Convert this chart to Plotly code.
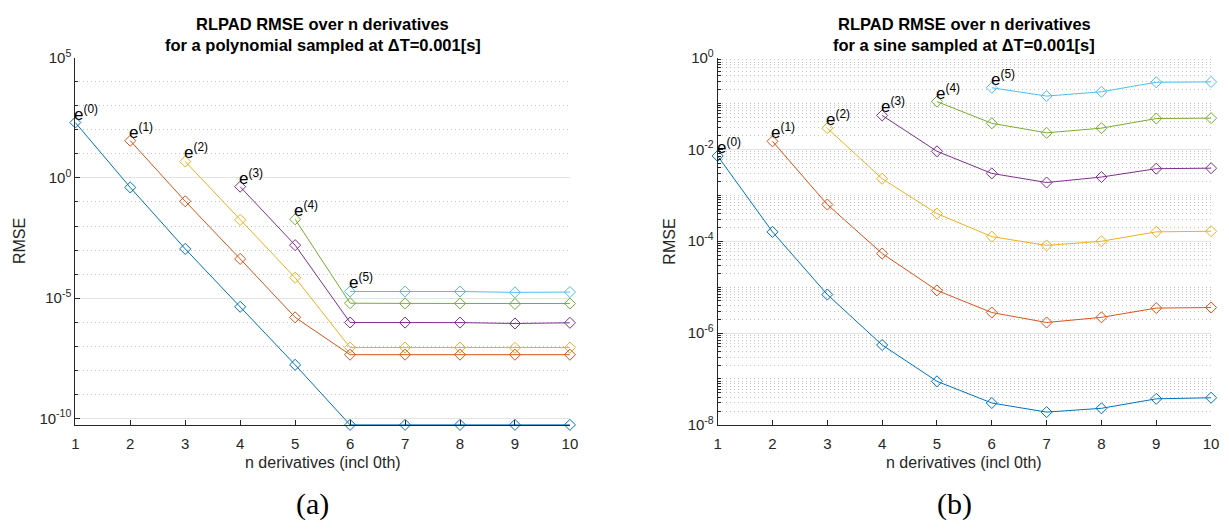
import math
import plotly.graph_objects as go

# ---------------- data ----------------
n_deriv = [1, 2, 3, 4, 5, 6, 7, 8, 9, 10]
series_names = ["e(0)", "e(1)", "e(2)", "e(3)", "e(4)", "e(5)"]
colors = ["#0072BD", "#D95319", "#EDB120", "#7E2F8E", "#77AC30", "#4DBEEE"]

# (a) polynomial, RMSE of derivative k starts at n = k+1
poly_e0 = [2.0e2, 4.0e-1, 1.12e-3, 4.4e-6, 1.7e-8, 5.45e-11, 5.45e-11, 5.45e-11, 5.45e-11, 5.45e-11]
poly_e1 = [3.5e1, 1.07e-1, 4.3e-4, 1.6e-6, 4.5e-8, 4.5e-8, 4.5e-8, 4.5e-8, 4.5e-8]
poly_e2 = [4.8e0, 1.8e-2, 7.1e-5, 8.9e-8, 8.9e-8, 8.9e-8, 8.7e-8, 8.9e-8]
poly_e3 = [4.3e-1, 1.6e-3, 9.8e-7, 9.7e-7, 9.7e-7, 8.9e-7, 9.5e-7]
poly_e4 = [1.9e-2, 6.2e-6, 6.1e-6, 6.1e-6, 5.8e-6, 6.0e-6]
poly_e5 = [1.9e-5, 1.9e-5, 1.9e-5, 1.75e-5, 1.8e-5]

# (b) sine
sine_e0 = [7.2e-3, 1.6e-4, 6.9e-6, 5.5e-7, 8.9e-8, 3.0e-8, 1.9e-8, 2.3e-8, 3.7e-8, 3.9e-8]
sine_e1 = [1.5e-2, 6.3e-4, 5.4e-5, 8.5e-6, 2.8e-6, 1.7e-6, 2.2e-6, 3.5e-6, 3.6e-6]
sine_e2 = [2.9e-2, 2.3e-3, 4.0e-4, 1.26e-4, 8.1e-5, 1.0e-4, 1.6e-4, 1.65e-4]
sine_e3 = [5.5e-2, 9.1e-3, 3.0e-3, 1.9e-3, 2.5e-3, 3.8e-3, 3.9e-3]
sine_e4 = [1.1e-1, 3.7e-2, 2.3e-2, 2.9e-2, 4.7e-2, 4.8e-2]
sine_e5 = [2.2e-1, 1.45e-1, 1.8e-1, 2.9e-1, 2.95e-1]

poly_series = [poly_e0, poly_e1, poly_e2, poly_e3, poly_e4, poly_e5]
sine_series = [sine_e0, sine_e1, sine_e2, sine_e3, sine_e4, sine_e5]

title_a = ["RLPAD RMSE over n derivatives", "for a polynomial sampled at \u0394T=0.001[s]"]
title_b = ["RLPAD RMSE over n derivatives", "for a sine sampled at \u0394T=0.001[s]"]
x_title = "n derivatives (incl 0th)"
y_title = "RMSE"
ticks_a = [1e-10, 1e-5, 1e0, 1e5]
ticks_a_text = ["10<sup>-10</sup>", "10<sup>-5</sup>", "10<sup>0</sup>", "10<sup>5</sup>"]
ticks_b = [1e-8, 1e-6, 1e-4, 1e-2, 1e0]
ticks_b_text = ["10<sup>-8</sup>", "10<sup>-6</sup>", "10<sup>-4</sup>", "10<sup>-2</sup>", "10<sup>0</sup>"]

# ---------------- figure ----------------
W, H = 1229, 530
FONT = "Liberation Sans, Arial, Helvetica, sans-serif"
TXT = "#262626"

fig = go.Figure()

for panel, series in ((1, poly_series), (2, sine_series)):
    xa = "x" if panel == 1 else "x2"
    ya = "y" if panel == 1 else "y2"
    for k, vals in enumerate(series):
        xs = n_deriv[k:k + len(vals)]
        fig.add_trace(go.Scatter(
            x=xs, y=vals, mode="lines+markers",
            line=dict(color=colors[k], width=1),
            marker=dict(symbol="diamond-open", size=8.5, color=colors[k],
                        line=dict(width=1, color=colors[k])),
            cliponaxis=False, showlegend=False, hoverinfo="skip",
            xaxis=xa, yaxis=ya,
        ))
        fig.add_annotation(
            x=xs[0], y=math.log10(vals[0]), xref=xa, yref=ya,
            text="e<sup>(%d)</sup>" % k, showarrow=False,
            xanchor="left", yanchor="bottom", xshift=-3, yshift=-3,
            font=dict(family=FONT, size=17, color="black"),
        )

# minor tick positions
minor_a = [10.0 ** p for p in range(-10, 5) if p not in (-10, -5, 0)]
minor_b = []
for p in range(-8, 0):
    for m in range(1, 10):
        if not (m == 1 and p % 2 == 0):
            minor_b.append(m * 10.0 ** p)

dom_y = [1 - 429.3 / H, 1 - 48.3 / H]
dom_xa = [72 / W, 571.5 / W]
dom_xb = [720.7 / W, 1219 / W]

xcommon = dict(range=[1, 10], tickvals=n_deriv, ticks="inside", ticklen=5, tickcolor=TXT,
               showline=True, linecolor=TXT, linewidth=1, showgrid=False, zeroline=False,
               ticklabelstandoff=5,
               tickfont=dict(family=FONT, size=15, color=TXT))
ycommon = dict(type="log", ticks="inside", ticklen=5, tickcolor=TXT, tickmode="array",
               showline=True, linecolor=TXT, linewidth=1, showgrid=True,
               gridcolor="#e3e3e3", gridwidth=1, zeroline=False,
               tickfont=dict(family=FONT, size=15, color=TXT))
minor_common = dict(tickmode="array", ticks="inside", ticklen=3, tickcolor=TXT,
                    showgrid=True, gridcolor="#c4c4c4", griddash="1px,3px", gridwidth=1)

fig.update_layout(
    width=W, height=H, margin=dict(l=0, r=0, t=0, b=0),
    paper_bgcolor="white", plot_bgcolor="white",
    xaxis=dict(xcommon, domain=dom_xa, anchor="y"),
    xaxis2=dict(xcommon, domain=dom_xb, anchor="y2"),
    yaxis=dict(ycommon, domain=dom_y, anchor="x", range=[-10.265, 5],
               tickvals=ticks_a, ticktext=ticks_a_text,
               minor=dict(minor_common, tickvals=minor_a)),
    yaxis2=dict(ycommon, domain=dom_y, anchor="x2", range=[-8, 0],
                tickvals=ticks_b, ticktext=ticks_b_text,
                minor=dict(minor_common, tickvals=minor_b)),
)


def paper_x(px):
    return px / W


def paper_y(py):
    return 1 - py / H


for (x0, x1), ttl, lab, rm_x in ((dom_xa, title_a, "(a)", 15), (dom_xb, title_b, "(b)", 672)):
    cx = (x0 + x1) / 2
    for i, line in enumerate(ttl):
        fig.add_annotation(x=cx, y=paper_y(13.5 + 22 * i), xref="paper", yref="paper",
                           text="<b>%s</b>" % line, showarrow=False, xanchor="center", yanchor="middle",
                           font=dict(family=FONT, size=16.5, color="black"))
    fig.add_annotation(x=cx, y=paper_y(468), xref="paper", yref="paper", text=x_title,
                       showarrow=False, xanchor="center", yanchor="middle",
                       font=dict(family=FONT, size=16, color=TXT))
    fig.add_annotation(x=paper_x(rm_x), y=paper_y(238.8), xref="paper", yref="paper", text=y_title,
                       showarrow=False, xanchor="center", yanchor="middle", textangle=-90,
                       font=dict(family=FONT, size=16, color=TXT))
    fig.add_annotation(x=cx - 10 / W, y=paper_y(511), xref="paper", yref="paper", text=lab,
                       showarrow=False, xanchor="center", yanchor="middle",
                       font=dict(family="Liberation Serif, Times New Roman, serif", size=30, color="black"))

fig.write_html("out.html")
